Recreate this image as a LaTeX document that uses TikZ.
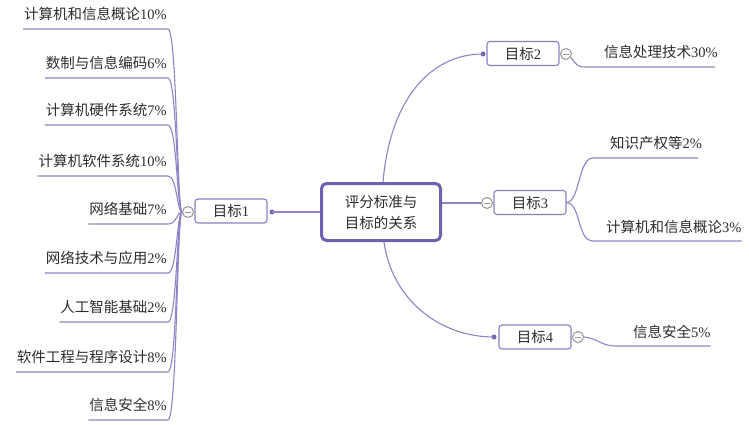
\documentclass[tikz,border=0pt]{standalone}
\usepackage{fontspec}
\setmainfont{Liberation Serif}
\newfontfamily\cjk{Noto Sans CJK SC}
\newcommand\zh[1]{{\cjk #1}}
\definecolor{lc}{RGB}{140,133,200}
\definecolor{bc}{RGB}{136,128,198}
\definecolor{hc}{RGB}{108,98,176}
\definecolor{dc}{RGB}{110,102,178}
\definecolor{tg}{RGB}{150,150,150}
\definecolor{tc}{RGB}{45,45,45}
\begin{document}
\begin{tikzpicture}[x=1pt,y=-1pt,
  fnt/.style={font=\fontsize{14.5}{21}\selectfont},
  conn/.style={draw=lc, line width=1.1pt},
  box/.style={fnt, text=tc, draw=bc, line width=1.1pt, rounded corners=3pt, fill=white, minimum width=72pt, minimum height=24pt, inner sep=0pt},
  hub/.style={font=\fontsize{14.5}{21}\selectfont\cjk, text=tc, draw=hc, line width=3pt, rounded corners=5pt, fill=white, minimum width=119pt, minimum height=57pt, align=center, inner sep=0pt},
  toggle/.style={circle, draw=tg, fill=white, line width=1pt, minimum size=11pt, inner sep=0pt,
    path picture={\draw[tg, line width=1pt] ([xshift=-3pt]path picture bounding box.center) -- ([xshift=3pt]path picture bounding box.center);}},
  knob/.style={circle, fill=dc, minimum size=5pt, inner sep=0pt},
  lbl/.style={fnt, text=tc, inner sep=0pt}]
\fill[white] (0,0) rectangle (749,424);
\useasboundingbox (0,0) rectangle (749,424);

% hub and goals
\node[hub] (hub) at (381,212) {评分标准与\\目标的关系};
\node[box] (b1) at (231,211) {\zh{目标}1};
\node[box] (b2) at (523,53.5) {\zh{目标}2};
\node[box] (b3) at (530,202.5) {\zh{目标}3};
\node[box] (b4) at (535,337) {\zh{目标}4};
\node[knob] (d1) at (272,212) {};
\node[knob] (d2) at (483,54) {};
\node[knob] (d4) at (494,337) {};
\node[toggle] (t1) at (188,212) {};
\node[toggle] (t2) at (566,54) {};
\node[toggle] (t3) at (487,203) {};
\node[toggle] (t4) at (578,337) {};

\draw[conn] (hub.west) -- (d1.center);
\draw[conn] (hub.east |- t3) -- (t3);
\draw[conn] ([xshift=2pt]hub.north) .. controls (390,100) and (430,54) .. (d2.center);
\draw[conn] ([xshift=3pt]hub.south) .. controls (392,300) and (440,337) .. (d4.center);

% right labels
\node[lbl, anchor=base west] (r1) at (604,57) {\zh{信息处理技术}30\%};
\coordinate (r1u) at (588,67);
\draw[conn] (t2.-35) .. controls (578,67) .. (r1u) -- ([xshift=-3pt]r1.east |- r1u);

\node[lbl, anchor=base west] (r2) at (610,148) {\zh{知识产权等}2\%};
\coordinate (r2u) at (593,158);
\draw[conn] (b3.east) .. controls (580,202) and (578,158) .. (r2u) -- ([xshift=-4pt]r2.east |- r2u);

\node[lbl, anchor=base west] (r3) at (606,232) {\zh{计算机和信息概论}3\%};
\coordinate (r3u) at (592,241);
\draw[conn] (b3.east) .. controls (580,202) and (578,241) .. (r3u) -- (r3.east |- r3u);

\node[lbl, anchor=base west] (r4) at (633,337) {\zh{信息安全}5\%};
\coordinate (r4u) at (617,346);
\draw[conn] (t4.east) .. controls (600,339) and (600,346) .. (r4u) -- (r4.east |- r4u);

% left labels
\foreach \i/\t/\n/\u in {1/计算机和信息概论/10/29, 2/数制与信息编码/6/78, 3/计算机硬件系统/7/125,
  4/计算机软件系统/10/176, 5/网络基础/7/224, 6/网络技术与应用/2/273, 7/人工智能基础/2/322,
  8/软件工程与程序设计/8/372, 9/信息安全/8/420} {
  \node[lbl, anchor=base east] (l\i) at (167,\u-10) {\zh{\t}\n\%};
  \coordinate (lu\i) at (168,\u);
  \draw[conn] ([xshift=-1pt]l\i.west |- lu\i) -- (lu\i) .. controls (177,\u) and (177,212) .. (t1.west);
}
\end{tikzpicture}
\end{document}
